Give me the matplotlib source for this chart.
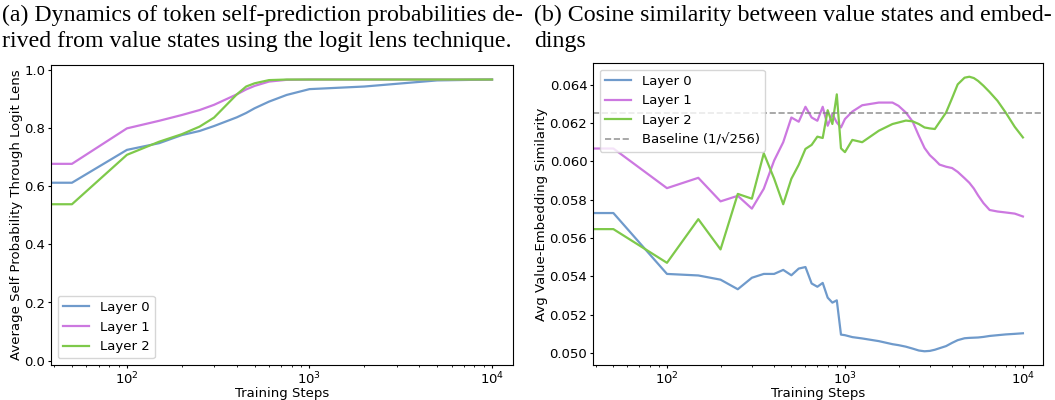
import matplotlib.pyplot as plt

# ---- panel (a): self-prediction probability via logit lens ----
steps_a = [0, 50, 100, 150, 200, 250, 300, 400, 450, 500, 600, 750, 1000, 2000, 5000, 10000]
prob_l0 = [0.612, 0.612, 0.725, 0.748, 0.776, 0.790, 0.807, 0.837, 0.852, 0.868, 0.891, 0.914, 0.934, 0.943, 0.964, 0.967]
prob_l1 = [0.677, 0.677, 0.799, 0.825, 0.845, 0.862, 0.880, 0.916, 0.933, 0.945, 0.960, 0.966, 0.967, 0.967, 0.967, 0.967]
prob_l2 = [0.538, 0.538, 0.708, 0.753, 0.779, 0.805, 0.836, 0.916, 0.943, 0.954, 0.965, 0.967, 0.967, 0.967, 0.967, 0.967]

# ---- panel (b): cosine similarity value states vs embeddings ----
steps_b = [0, 50, 100, 150, 200, 250, 300, 350, 400, 450, 500, 550, 600, 650, 700, 750, 800,
           850, 900, 950, 1000, 1100, 1250, 1550, 1850, 2000, 2200, 2400, 2600, 2800, 3000,
           3200, 3400, 3700, 4000, 4300, 4700, 5000, 5300, 5600, 6000, 6500, 7200, 8000, 9000, 10000]
sim_l0 = [0.05730, 0.05730, 0.05412, 0.05404, 0.05382, 0.05332, 0.05392, 0.05412, 0.05412, 0.05433,
          0.05405, 0.05440, 0.05448, 0.05362, 0.05345, 0.05365, 0.05288, 0.05262, 0.05274, 0.05095,
          0.05092, 0.05082, 0.05075, 0.05061, 0.05045, 0.05040, 0.05032, 0.05022, 0.05012, 0.05008,
          0.05010, 0.05016, 0.05024, 0.05035, 0.05052, 0.05066, 0.05076, 0.05078, 0.05079, 0.05080,
          0.05083, 0.05088, 0.05092, 0.05096, 0.05099, 0.05102]
sim_l1 = [0.06067, 0.06067, 0.05860, 0.05914, 0.05791, 0.05820, 0.05753, 0.05857, 0.06004, 0.06100,
          0.06229, 0.06207, 0.06285, 0.06229, 0.06212, 0.06285, 0.06186, 0.06247, 0.06203, 0.06177,
          0.06221, 0.06260, 0.06293, 0.06307, 0.06307, 0.06290, 0.06255, 0.06208, 0.06134, 0.06070,
          0.06032, 0.06008, 0.05983, 0.05972, 0.05965, 0.05945, 0.05912, 0.05888, 0.05858, 0.05822,
          0.05782, 0.05746, 0.05738, 0.05733, 0.05727, 0.05712]
sim_l2 = [0.05646, 0.05646, 0.05470, 0.05698, 0.05540, 0.05830, 0.05805, 0.06042, 0.05910, 0.05776,
          0.05909, 0.05982, 0.06065, 0.06086, 0.06129, 0.06122, 0.06267, 0.06195, 0.06350, 0.06068,
          0.06048, 0.06112, 0.06100, 0.06160, 0.06195, 0.06203, 0.06213, 0.06209, 0.06195, 0.06177,
          0.06172, 0.06169, 0.06205, 0.06255, 0.06330, 0.06402, 0.06437, 0.06442, 0.06435, 0.06420,
          0.06395, 0.06362, 0.06316, 0.06255, 0.06180, 0.06125]
baseline = 1 / 256 ** 0.5

labels = ['Layer 0', 'Layer 1', 'Layer 2']
colors = ['#6f9acb', '#cc78e0', '#7ec94a']
fs = 9.5

fig = plt.figure(figsize=(10.55, 4), dpi=100)
ax1 = fig.add_axes([0.0483, 0.0875, 0.438, 0.75])
ax2 = fig.add_axes([0.562, 0.0875, 0.427, 0.755])

for ys, lab, c in zip([prob_l0, prob_l1, prob_l2], labels, colors):
    ax1.plot(steps_a, ys, color=c, lw=1.6, label=lab)
ax1.set_xscale('log')
ax1.set_ylim(-0.015, 1.017)
ax1.set_xlabel('Training Steps', fontsize=fs, labelpad=0)
ax1.set_ylabel('Average Self Probability Through Logit Lens', fontsize=fs, labelpad=1)
ax1.legend(loc='lower left', fontsize=fs)

for ys, lab, c in zip([sim_l0, sim_l1, sim_l2], labels, colors):
    ax2.plot(steps_b, ys, color=c, lw=1.6, label=lab)
ax2.axhline(baseline, color='gray', ls='--', lw=1.2, alpha=0.8, label='Baseline (1/\u221a256)')
ax2.set_xscale('log')
ax2.set_xlabel('Training Steps', fontsize=fs, labelpad=0)
ax2.set_ylabel('Avg Value-Embedding Similarity', fontsize=fs, labelpad=1)
ax2.legend(loc='upper left', fontsize=fs)

for ax in (ax1, ax2):
    ax.tick_params(which='major', labelsize=fs, length=2.5, pad=1.5)
    ax.tick_params(which='minor', length=1.5)

cap = dict(fontsize=17.2, family='Liberation Serif', va='baseline', ha='left')
fig.text(0.002, 1 - 21.5 / 400, '(a) Dynamics of token self-prediction probabilities de-', **cap)
fig.text(0.002, 1 - 46.5 / 400, 'rived from value states using the logit lens technique.', **cap)
fig.text(534 / 1055, 1 - 21.5 / 400, '(b) Cosine similarity between value states and embed-', **cap)
fig.text(534 / 1055, 1 - 46.5 / 400, 'dings', **cap)

fig.savefig('out.png', dpi=100)
